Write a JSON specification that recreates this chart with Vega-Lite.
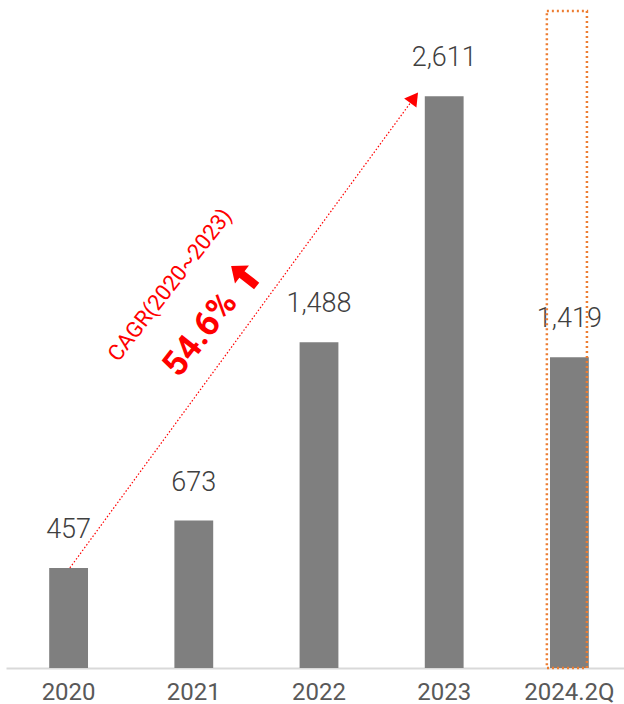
{
  "$schema": "https://vega.github.io/schema/vega-lite/v6.json",
  "width": 626,
  "height": 657,
  "padding": {"left": 6, "top": 9, "right": 0, "bottom": 0},
  "autosize": {"type": "pad"},
  "background": "white",
  "config": {"view": {"stroke": null}, "font": "Roboto"},
  "datasets": {
    "bars": [
      {"period": "2020", "value": 457},
      {"period": "2021", "value": 673},
      {"period": "2022", "value": 1488},
      {"period": "2023", "value": 2611},
      {"period": "2024.2Q", "value": 1419}
    ],
    "box": [{"x": 3.82, "x2": 4.14, "y": 0, "y2": 3000}],
    "cagr": [
      {"idx": 0.01, "value": 457, "order": 1},
      {"idx": 2.76, "value": 2604, "order": 2}
    ],
    "head": [{"idx": 2.76, "value": 2604}],
    "notes": [
      {"idx": 0.81, "value": 1749, "text": "CAGR(2020~2023)"}
    ],
    "rate": [
      {"idx": 1.05, "value": 1525, "text": "54.6%"}
    ],
    "up": [
      {"idx": 1.4, "value": 1790}
    ]
  },
  "layer": [
    {
      "data": {"name": "bars"},
      "encoding": {
        "x": {
          "field": "period",
          "type": "nominal",
          "sort": null,
          "scale": {"paddingInner": 0.69, "paddingOuter": 0.345},
          "axis": {
            "title": null,
            "labelAngle": 0,
            "ticks": false,
            "grid": false,
            "domainColor": "#d9d9d9",
            "domainWidth": 2,
            "labelFontSize": 24,
            "labelColor": "#595959",
            "labelPadding": 12,
            "labelFont": "Roboto"
          }
        },
        "y": {
          "field": "value",
          "type": "quantitative",
          "scale": {"domain": [0, 3000], "nice": false},
          "axis": null
        }
      },
      "layer": [
        {"mark": {"type": "bar", "color": "#7f7f7f"}},
        {
          "mark": {
            "type": "text",
            "dy": -30,
            "baseline": "alphabetic",
            "fontSize": 27,
            "fontWeight": 300,
            "color": "#404040"
          },
          "encoding": {"text": {"field": "value", "type": "quantitative", "format": ","}}
        }
      ]
    },
    {
      "layer": [
        {
          "data": {"name": "box"},
          "mark": {"type": "rect", "fill": null, "stroke": "#ed7d31", "strokeDash": [2, 3], "strokeWidth": 2.5},
          "encoding": {
            "x": {"field": "x", "type": "quantitative", "scale": {"domain": [-0.5, 4.5], "nice": false, "zero": false}, "axis": null},
            "x2": {"field": "x2"},
            "y": {"field": "y", "type": "quantitative", "axis": null},
            "y2": {"field": "y2"}
          }
        },
        {
          "data": {"name": "cagr"},
          "mark": {"type": "line", "color": "#ff0000", "strokeDash": [1.5, 2], "strokeWidth": 1.2},
          "encoding": {
            "x": {"field": "idx", "type": "quantitative", "axis": null},
            "y": {"field": "value", "type": "quantitative", "axis": null},
            "order": {"field": "order"}
          }
        },
        {
          "data": {"name": "head"},
          "mark": {"type": "point", "shape": "triangle-up", "angle": 36, "filled": true, "color": "#ff0000", "size": 230, "opacity": 1},
          "encoding": {
            "x": {"field": "idx", "type": "quantitative", "axis": null},
            "y": {"field": "value", "type": "quantitative", "axis": null}
          }
        },
        {
          "data": {"name": "up"},
          "mark": {"type": "point", "shape": "M-0.26,1L0.26,1L0.26,-0.15L0.7,-0.15L0,-1L-0.7,-0.15L-0.26,-0.15Z", "angle": 308, "filled": true, "color": "#ff0000", "size": 1050, "opacity": 1},
          "encoding": {
            "x": {"field": "idx", "type": "quantitative", "axis": null},
            "y": {"field": "value", "type": "quantitative", "axis": null}
          }
        },
        {
          "data": {"name": "notes"},
          "mark": {"type": "text", "angle": 308, "fontSize": 22, "color": "#ff0000", "align": "center", "baseline": "middle"},
          "encoding": {
            "x": {"field": "idx", "type": "quantitative", "axis": null},
            "y": {"field": "value", "type": "quantitative", "axis": null},
            "text": {"field": "text"}
          }
        },
        {
          "data": {"name": "rate"},
          "mark": {"type": "text", "angle": 308, "fontSize": 35, "fontWeight": "bold", "color": "#ff0000", "align": "center", "baseline": "middle"},
          "encoding": {
            "x": {"field": "idx", "type": "quantitative", "axis": null},
            "y": {"field": "value", "type": "quantitative", "axis": null},
            "text": {"field": "text"}
          }
        }
      ]
    }
  ],
  "resolve": {"scale": {"x": "independent"}}
}
